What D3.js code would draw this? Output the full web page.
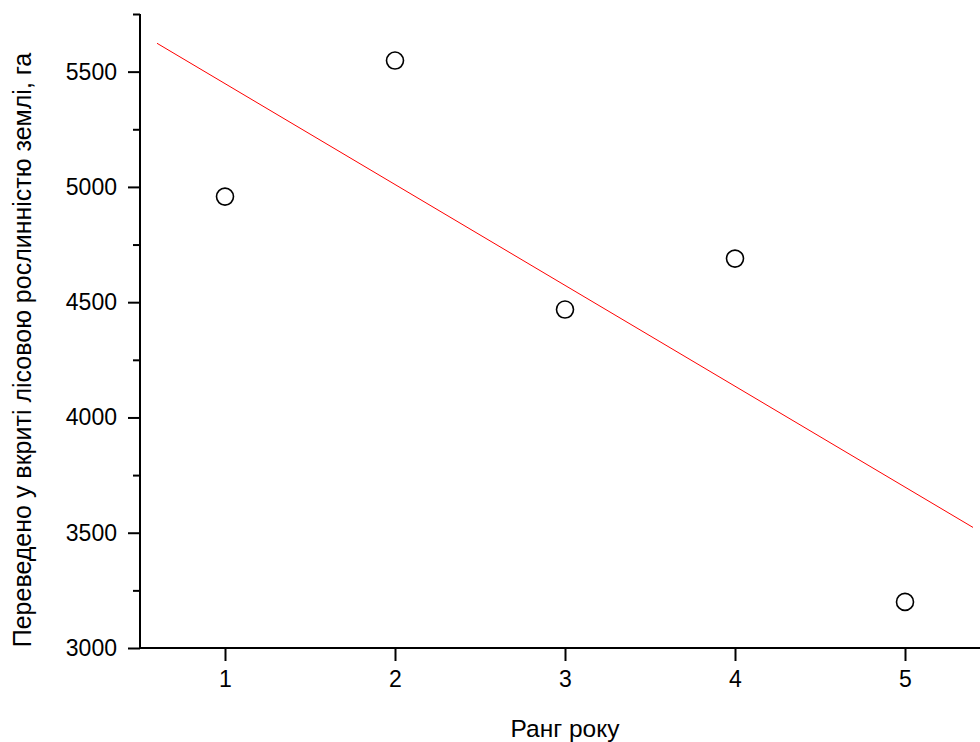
<!DOCTYPE html>
<html><head><meta charset="utf-8">
<script src="https://cdn.jsdelivr.net/npm/d3@7"></script>
<style>
html,body{margin:0;padding:0;background:#fff;}
svg{display:block;}
text{font-family:"Liberation Sans",Arial,sans-serif;fill:#000;}
</style></head>
<body>
<svg id="chart" width="980" height="742"></svg>
<script>
// Data
const ranks = [1, 2, 3, 4, 5];
const areas = [4958, 5548, 4468, 4689, 3200];
// Fitted red line endpoints
const fitX = [0.6, 5.4];
const fitY = [5623, 3523];
const yMajorTicks = [3000, 3500, 4000, 4500, 5000, 5500];
const yMinorTicks = [3250, 3750, 4250, 4750, 5250, 5750];
const xTicks = [1, 2, 3, 4, 5];
const xTitle = "Ранг року";
const yTitle = "Переведено у вкриті лісовою рослинністю землі, га";

(function () {
const svg = d3.select("#chart");
const mLeft = 140, mRight = 990, mTop = 14, mBottom = 648;
const x = d3.scaleLinear().domain([0.5, 5.5]).range([mLeft, mRight]);
const y = d3.scaleLinear().domain([3000, 5750]).range([mBottom, mTop]);
const fmt = d3.format("d");

// Y axis
const yAxis = svg.append("g").attr("transform", `translate(${mLeft},0)`)
  .call(d3.axisLeft(y).tickValues(yMajorTicks).tickFormat(fmt).tickSize(12).tickSizeOuter(0).tickPadding(11));
const yMinor = svg.append("g").attr("transform", `translate(${mLeft},0)`)
  .call(d3.axisLeft(y).tickValues(yMinorTicks).tickSize(7).tickSizeOuter(0).tickFormat(""));
yMinor.select(".domain").remove();

// X axis
const xAxis = svg.append("g").attr("transform", `translate(0,${mBottom})`)
  .call(d3.axisBottom(x).tickValues(xTicks).tickFormat(fmt).tickSize(13).tickSizeOuter(0).tickPadding(10));

[yAxis, yMinor, xAxis].forEach(g => {
  g.selectAll("path,line").attr("stroke", "#000").attr("stroke-width", 2);
  g.selectAll("text").attr("font-size", 23).attr("font-family", '"Liberation Sans",Arial,sans-serif').attr("fill", "#000");
});
xAxis.select(".domain").attr("d", `M${mLeft},0H${mRight}`);
yAxis.select(".domain").attr("d", `M0,${y(5750)}V${mBottom}`);

// Fit line
svg.append("line")
  .attr("x1", x(fitX[0])).attr("y1", y(fitY[0]))
  .attr("x2", x(fitX[1])).attr("y2", y(fitY[1]))
  .attr("stroke", "#ff0000").attr("stroke-width", 1);

// Points
svg.append("g").selectAll("circle").data(ranks).join("circle")
  .attr("cx", (d) => x(d)).attr("cy", (d, i) => y(areas[i]))
  .attr("r", 8.5).attr("fill", "none").attr("stroke", "#000").attr("stroke-width", 1.6);

// Titles
svg.append("text").attr("x", x(3)).attr("y", 737).attr("text-anchor", "middle")
  .attr("font-size", 24.5).text(xTitle);
svg.append("text").attr("transform", `translate(31,350) rotate(-90)`)
  .attr("text-anchor", "middle").attr("font-size", 25).text(yTitle);
})();
</script>
</body></html>
